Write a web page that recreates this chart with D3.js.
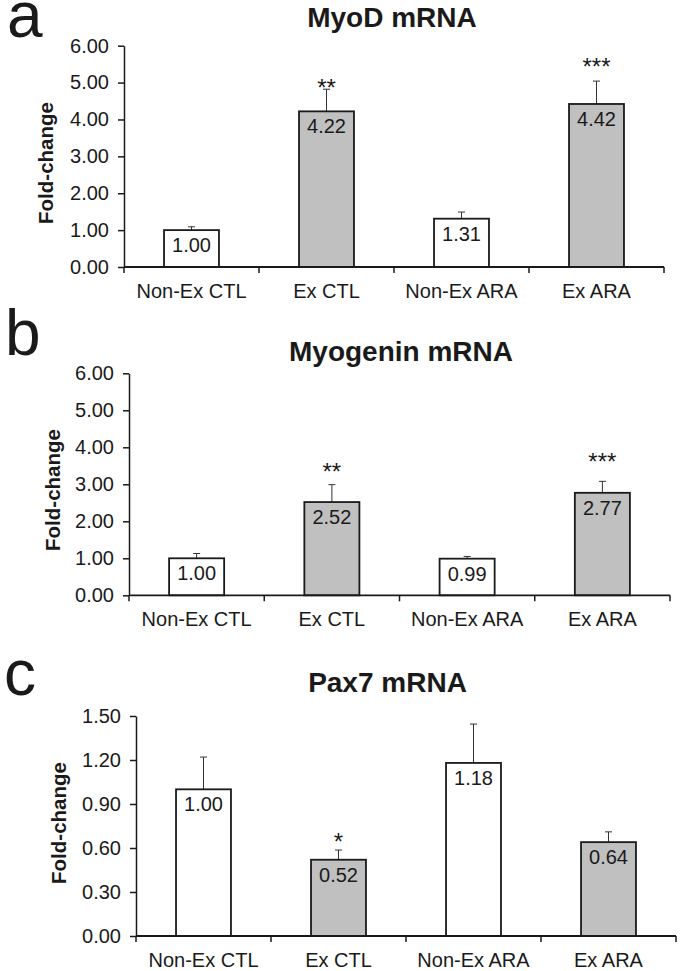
<!DOCTYPE html>
<html>
<head>
<meta charset="utf-8">
<script src="https://cdn.jsdelivr.net/npm/d3@7/dist/d3.min.js"></script>
<style>
  html, body { margin: 0; padding: 0; background: #fff; }
  svg { display: block; }
  text { font-family: "Liberation Sans", Arial, sans-serif; fill: #1a1a1a; }
</style>
</head>
<body>
<svg id="chart" width="681" height="971"></svg>
<script>
// ---------- DATA ----------
const categories = ["Non-Ex CTL", "Ex CTL", "Non-Ex ARA", "Ex ARA"];
const exercised = [false, true, false, true];

const myodValues = [1.00, 4.22, 1.31, 4.42];
const myodErrors = [0.09, 0.60, 0.18, 0.62];
const myodSig = ["", "**", "", "***"];
const myodSigPos = [null, 5.00, null, 5.56];
const myodTicks = [0, 1, 2, 3, 4, 5, 6];

const myogeninValues = [1.00, 2.52, 0.99, 2.77];
const myogeninErrors = [0.13, 0.47, 0.06, 0.31];
const myogeninSig = ["", "**", "", "***"];
const myogeninSigPos = [null, 3.48, null, 3.75];
const myogeninTicks = [0, 1, 2, 3, 4, 5, 6];

const pax7Values = [1.00, 0.52, 1.18, 0.64];
const pax7Errors = [0.22, 0.066, 0.265, 0.07];
const pax7Sig = ["", "*", "", ""];
const pax7SigPos = [null, 0.677, null, null];
const pax7Ticks = [0, 0.3, 0.6, 0.9, 1.2, 1.5];

// ---------- LAYOUT ----------
const panels = [
  { letter: "a", title: "MyoD mRNA", values: myodValues, errors: myodErrors, sig: myodSig, sigPos: myodSigPos, ticks: myodTicks,
    left: 124, right: 664, top: 45.7, bottom: 267, letterX: 7, letterY: 37, titleX: 392, titleY: 27, yTitleX: 53, yTitleY: 163 },
  { letter: "b", title: "Myogenin mRNA", values: myogeninValues, errors: myogeninErrors, sig: myogeninSig, sigPos: myogeninSigPos, ticks: myogeninTicks,
    left: 129, right: 670, top: 373.3, bottom: 595.3, letterX: 5, letterY: 355, titleX: 401, titleY: 361, yTitleX: 60, yTitleY: 490 },
  { letter: "c", title: "Pax7 mRNA", values: pax7Values, errors: pax7Errors, sig: pax7Sig, sigPos: pax7SigPos, ticks: pax7Ticks,
    left: 136, right: 676, top: 716, bottom: 936, letterX: 4, letterY: 695, titleX: 387.5, titleY: 692, yTitleX: 66, yTitleY: 823 }
];

const svg = d3.select("#chart");
const ink = "#1a1a1a";
const pad = 0.593;

panels.forEach(p => {
  const g = svg.append("g");
  const yMax = d3.max(p.ticks);
  const y = d3.scaleLinear().domain([0, yMax]).range([p.bottom, p.top]);
  const x = d3.scaleBand().domain(categories).range([p.left, p.right])
    .paddingInner(pad).paddingOuter(pad / 2);
  const data = categories.map((c, i) => ({
    cat: c, v: p.values[i], e: p.errors[i], ex: exercised[i], sig: p.sig[i], sp: p.sigPos[i]
  }));

  // panel letter
  g.append("text").attr("x", p.letterX).attr("y", p.letterY)
    .attr("font-size", 64).attr("fill", "#111").text(p.letter);

  // title
  g.append("text").attr("x", p.titleX).attr("y", p.titleY)
    .attr("text-anchor", "middle").attr("font-size", 28).attr("font-weight", "bold")
    .text(p.title);

  // y-axis title
  g.append("text")
    .attr("transform", `translate(${p.yTitleX},${p.yTitleY}) rotate(-90)`)
    .attr("text-anchor", "middle").attr("font-size", 20.5).attr("font-weight", "bold")
    .text("Fold-change");

  // error bars
  const eb = g.append("g").attr("stroke", "#333").attr("stroke-width", 1);
  data.forEach(d => {
    const cx = x(d.cat) + x.bandwidth() / 2;
    eb.append("line").attr("x1", cx).attr("x2", cx).attr("y1", y(d.v)).attr("y2", y(d.v + d.e));
    eb.append("line").attr("x1", cx - 3.5).attr("x2", cx + 3.5).attr("y1", y(d.v + d.e)).attr("y2", y(d.v + d.e));
  });

  // bars
  g.append("g").selectAll("rect").data(data).join("rect")
    .attr("x", d => x(d.cat))
    .attr("y", d => y(d.v))
    .attr("width", x.bandwidth())
    .attr("height", d => y(0) - y(d.v))
    .attr("fill", d => d.ex ? "#c0c0c0" : "#ffffff")
    .attr("stroke", ink).attr("stroke-width", 1.8);

  // value labels
  g.append("g").selectAll("text").data(data).join("text")
    .attr("x", d => x(d.cat) + x.bandwidth() / 2)
    .attr("y", d => y(d.v) + 22)
    .attr("text-anchor", "middle").attr("font-size", 20)
    .text(d => d.v.toFixed(2));

  // significance marks
  g.append("g").selectAll("text").data(data.filter(d => d.sig)).join("text")
    .attr("x", d => x(d.cat) + x.bandwidth() / 2)
    .attr("y", d => y(d.sp) + 13)
    .attr("text-anchor", "middle").attr("font-size", 24)
    .text(d => d.sig);

  // y axis
  const yAxis = d3.axisLeft(y).tickValues(p.ticks).tickFormat(d3.format(".2f"))
    .tickSize(6).tickSizeOuter(0).tickPadding(9);
  const ya = g.append("g").attr("transform", `translate(${p.left},0)`).call(yAxis);
  ya.selectAll("text").attr("font-size", 20).attr("fill", "#1a1a1a")
    .style("font-family", '"Liberation Sans", Arial, sans-serif');
  ya.selectAll("line").attr("stroke", ink).attr("stroke-width", 1.5);
  ya.select(".domain").attr("stroke", ink).attr("stroke-width", 1.5);

  // x axis baseline and category ticks
  const step = x.step();
  const offs = (step - x.bandwidth()) / 2;
  const bounds = categories.map(c => x(c) - offs).concat([p.right]);
  g.append("line").attr("x1", p.left).attr("x2", p.right)
    .attr("y1", y(0)).attr("y2", y(0)).attr("stroke", ink).attr("stroke-width", 1.8);
  g.append("g").selectAll("line").data(bounds).join("line")
    .attr("x1", d => d).attr("x2", d => d)
    .attr("y1", y(0)).attr("y2", y(0) + 6)
    .attr("stroke", ink).attr("stroke-width", 1.5);
  g.append("g").selectAll("text").data(categories).join("text")
    .attr("x", c => x(c) + x.bandwidth() / 2)
    .attr("y", y(0) + 31)
    .attr("text-anchor", "middle").attr("font-size", 20)
    .text(c => c);
});
</script>
</body>
</html>
